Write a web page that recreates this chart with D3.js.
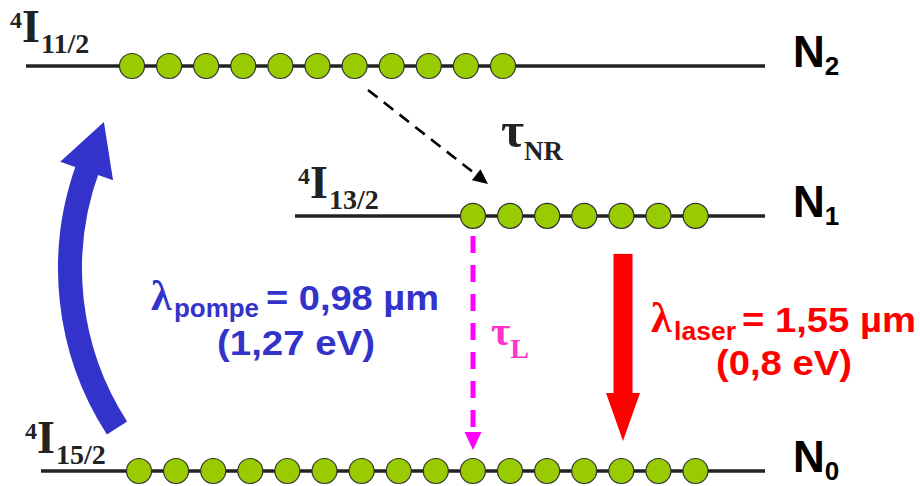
<!DOCTYPE html>
<html><head><meta charset="utf-8">
<script src="https://cdn.jsdelivr.net/npm/d3@7"></script>
<style>html,body{margin:0;padding:0;background:#fff;} svg{display:block}</style>
</head><body>
<svg id="c" width="920" height="486"></svg>
<script>
// ---------- data ----------
const levelNames = ["N", "N", "N"];
const levelSubscripts = ["0", "1", "2"];
const termMultiplicity = ["4", "4", "4"];
const termLetters = ["I", "I", "I"];
const termJ = ["15/2", "13/2", "11/2"];
const levelEnergies = [0, 0.8, 1.27];          // eV
const populations = [16, 7, 11];               // ions drawn on each level
const pumpLabel = ["λ", "pompe", "= 0,98 µm", "(1,27 eV)"];
const laserLabel = ["λ", "laser", "= 1,55 µm", "(0,8 eV)"];
const nonRadLabel = ["τ", "NR"];
const radLabel = ["τ", "L"];

// ---------- layout ----------
const L = {
  lineStart: [41, 295, 26], lineEnd: 765,
  popStart: [139, 473, 132], popStep: 37.1, popR: 12.5,
  termX: [25, 298, 10], termLift: [18, 18, 24],
  nX: 793
};
const BLUE = "#3333cc", RED = "#ff0000", MAG = "#ff00ff", PINK = "#ff33cc", GREEN = "#99cc00";

const svg = d3.select("#c");
const y = d3.scaleLinear().domain([0, 1.27]).range([471, 66]);
const popX = levelEnergies.map((e, i) =>
  d3.scalePoint().domain(d3.range(populations[i]))
    .range([L.popStart[i], L.popStart[i] + (populations[i] - 1) * L.popStep]));

// ---------- level lines ----------
svg.selectAll("line.level").data(levelEnergies).join("line")
  .attr("class", "level")
  .attr("x1", (d, i) => L.lineStart[i]).attr("x2", L.lineEnd)
  .attr("y1", d => y(d)).attr("y2", d => y(d))
  .attr("stroke", "#222").attr("stroke-width", 3.5);

// ---------- populations ----------
levelEnergies.forEach((e, i) => {
  svg.append("g").selectAll("circle").data(d3.range(populations[i])).join("circle")
    .attr("cx", k => popX[i](k)).attr("cy", y(e)).attr("r", L.popR)
    .attr("fill", GREEN).attr("stroke", "#333").attr("stroke-width", 1.2);
});

// ---------- level names N0..N2 ----------
levelEnergies.forEach((e, i) => {
  const t = svg.append("text").attr("x", L.nX).attr("y", y(e) + 1)
    .attr("font-family", "Liberation Sans, Arial, sans-serif").attr("font-weight", "bold")
    .attr("fill", "#000");
  t.append("tspan").attr("font-size", 44).text(levelNames[i]);
  t.append("tspan").attr("font-size", 26).attr("dy", 8).text(levelSubscripts[i]);
});

// ---------- term symbols ----------
levelEnergies.forEach((e, i) => {
  const x0 = L.termX[i], yb = y(e) - L.termLift[i];
  const g = svg.append("g").attr("font-family", "Liberation Serif, Times New Roman, serif")
    .attr("font-weight", "bold").attr("fill", "#222");
  g.append("text").attr("x", x0).attr("y", yb - 14).attr("font-size", 24).text(termMultiplicity[i]);
  g.append("text").attr("x", x0 + 12).attr("y", yb).attr("font-size", 46).text(termLetters[i]);
  g.append("text").attr("x", x0 + 31).attr("y", yb + 11).attr("font-size", 28).text(termJ[i]);
});

// ---------- pump arrow (curved, blue) ----------
const cx = 364, R = 294, cy = (y(0) + y(1.27)) / 2;
const aTail = Math.PI - Math.asin((y(0) - 43 - cy) / R);
const aHead = Math.PI - Math.asin((y(1.27) + 105 - cy) / R);
const arcPath = d3.path();
arcPath.arc(cx, cy, R, aTail, aHead + 0.02, false);
svg.append("path").attr("d", arcPath.toString())
  .attr("fill", "none").attr("stroke", BLUE).attr("stroke-width", 24).attr("stroke-linecap", "butt");
{
  const bx = cx + R * Math.cos(aHead), by = cy + R * Math.sin(aHead);
  const tx = -Math.sin(aHead), ty = Math.cos(aHead);   // tangent
  const nx = Math.cos(aHead), ny = Math.sin(aHead);    // normal
  const pts = [[bx + 52 * tx, by + 52 * ty], [bx + 28 * nx, by + 28 * ny], [bx - 28 * nx, by - 28 * ny]];
  svg.append("polygon").attr("points", pts.map(p => p.join(",")).join(" ")).attr("fill", BLUE);
}

// ---------- non-radiative decay (black dashed) ----------
{
  const x1 = 368, y1 = y(1.27) + 24, x2 = 488, y2 = y(0.8) - 32;
  const dx = x2 - x1, dy = y2 - y1, len = Math.hypot(dx, dy), ux = dx / len, uy = dy / len;
  const hl = 15, hw = 7;
  svg.append("line").attr("x1", x1).attr("y1", y1)
    .attr("x2", x2 - ux * (hl - 2)).attr("y2", y2 - uy * (hl - 2))
    .attr("stroke", "#000").attr("stroke-width", 2.6).attr("stroke-dasharray", "12,8");
  const bx = x2 - ux * hl, by = y2 - uy * hl;
  svg.append("polygon").attr("points",
    [[x2, y2], [bx - uy * hw, by + ux * hw], [bx + uy * hw, by - ux * hw]].map(p => p.join(",")).join(" "))
    .attr("fill", "#000");
}

// ---------- radiative lifetime (magenta dashed) ----------
{
  const x = popX[1](0);
  svg.append("line").attr("x1", x).attr("x2", x)
    .attr("y1", y(0.8) + 20).attr("y2", y(0) - 39)
    .attr("stroke", MAG).attr("stroke-width", 5).attr("stroke-dasharray", "17,12");
  svg.append("polygon").attr("points",
    [[x - 8.5, y(0) - 39], [x + 8.5, y(0) - 39], [x, y(0) - 21]].map(p => p.join(",")).join(" "))
    .attr("fill", MAG);
}

// ---------- laser arrow (red) ----------
{
  const x = 623;
  svg.append("rect").attr("x", x - 9.5).attr("width", 19)
    .attr("y", y(0.8) + 38).attr("height", (y(0) - 78) - (y(0.8) + 38) + 1).attr("fill", RED);
  svg.append("polygon").attr("points",
    [[x - 17, y(0) - 78], [x + 17, y(0) - 78], [x, y(0) - 30]].map(p => p.join(",")).join(" "))
    .attr("fill", RED);
}

// ---------- labels ----------
const SANS = "Liberation Sans, Arial, sans-serif", SERIF = "Liberation Serif, Times New Roman, serif";
function wavelength(lbl, color, xl, yl, xs, ys, subLen, xe, eLen, xc, yc, cLen) {
  svg.append("text").attr("x", xl).attr("y", yl).attr("font-family", SERIF).attr("font-size", 42)
    .attr("font-weight", "bold").attr("fill", color).text(lbl[0]);
  svg.append("text").attr("x", xs).attr("y", ys).attr("font-family", SANS).attr("font-weight", "bold")
    .attr("font-size", 25).attr("fill", color).attr("textLength", subLen).attr("lengthAdjust", "spacingAndGlyphs").text(lbl[1]);
  svg.append("text").attr("x", xe).attr("y", yl).attr("font-family", SANS).attr("font-weight", "bold")
    .attr("font-size", 35).attr("fill", color).attr("textLength", eLen).attr("lengthAdjust", "spacingAndGlyphs").text(lbl[2]);
  svg.append("text").attr("x", xc).attr("y", yc).attr("font-family", SANS).attr("font-weight", "bold")
    .attr("font-size", 35).attr("fill", color).attr("text-anchor", "middle")
    .attr("textLength", cLen).attr("lengthAdjust", "spacingAndGlyphs").text(lbl[3]);
}
wavelength(pumpLabel, BLUE, 151, 310, 174, 317, 85, 266, 173, 296, 355, 158);
wavelength(laserLabel, RED, 651, 332, 674, 340, 62, 742, 174, 784, 375, 136);

function lifetime(lbl, color, x, yb, tsize, ssize, sdy) {
  const t = svg.append("text").attr("x", x).attr("y", yb).attr("font-family", SERIF)
    .attr("font-weight", "bold").attr("fill", color);
  t.append("tspan").attr("font-size", tsize).text(lbl[0]);
  t.append("tspan").attr("font-size", ssize).attr("dy", sdy).text(lbl[1]);
}
lifetime(nonRadLabel, "#222", 501, 147, 50, 27, 13);
lifetime(radLabel, PINK, 491, 345, 42, 28, 13);
</script>
</body></html>
